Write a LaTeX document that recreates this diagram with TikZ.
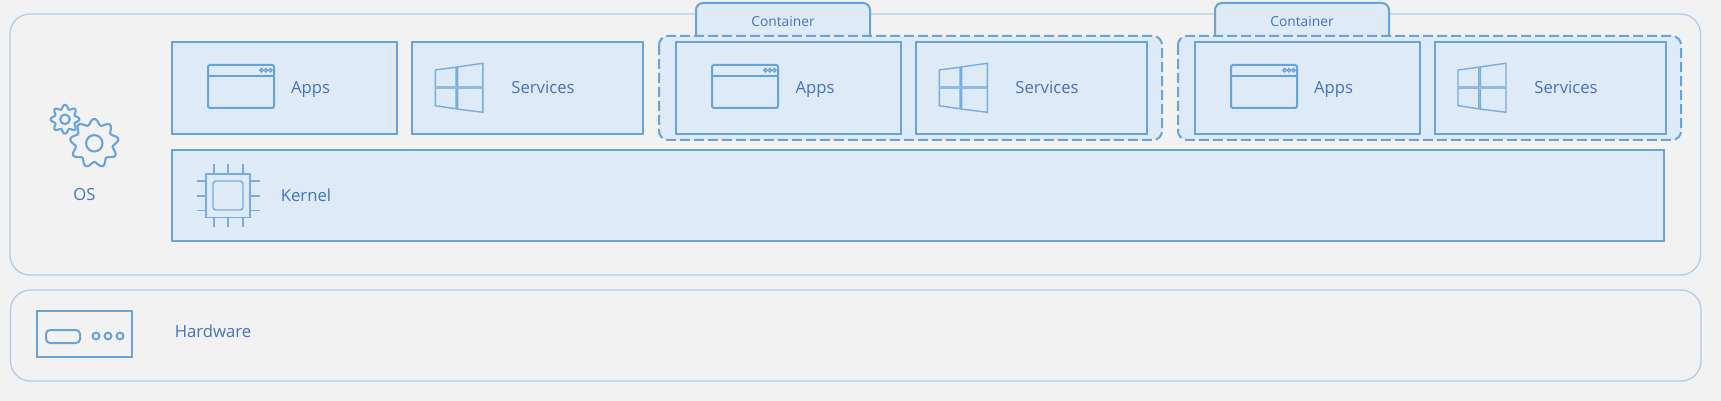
\documentclass[tikz,border=0pt]{standalone}
\usepackage{fontspec}
\setmainfont{Open Sans}
\definecolor{bgc}{HTML}{F2F2F2}
\definecolor{fillc}{HTML}{DEEAF6}
\definecolor{linec}{HTML}{68A3DA}
\definecolor{outerc}{HTML}{B4CDE6}
\definecolor{textc}{HTML}{4472C4}
\tikzset{
  panel/.style={draw=outerc,line width=1.3pt,rounded corners=20pt,fill=bgc},
  bluebox/.style={draw=linec,line width=2pt,fill=fillc,inner sep=0pt,outer sep=0pt},
  dashbox/.style={draw=linec,line width=2pt,fill=fillc,rounded corners=9pt,dash pattern=on 10pt off 4pt},
  tabshape/.style={draw=linec,line width=2pt,fill=fillc,rounded corners=7pt},
  label/.style={text=textc,font=\fontsize{16.7}{19}\selectfont,inner sep=0pt},
  tablabel/.style={text=textc,font=\fontsize{13.8}{16}\selectfont,inner sep=0pt},
  iconline/.style={draw=linec,line width=2pt},
  thinicon/.style={draw=linec!90!white,line width=1.4pt},
  gearline/.style={draw=linec,line width=2.1pt,line join=round}
}
% box from corner to corner: name, x1, y1, x2, y2
\newcommand{\bluerect}[5]{%
  \pgfmathsetmacro{\bw}{#4-#2}\pgfmathsetmacro{\bh}{#5-#3}%
  \pgfmathsetmacro{\bx}{(#2+#4)/2}\pgfmathsetmacro{\by}{(#3+#5)/2}%
  \node[bluebox,minimum width=\bw pt,minimum height=\bh pt] (#1) at (\bx,\by) {};}
% window icon at left x
\newcommand{\windowicon}[1]{%
  \begin{scope}[shift={(#1,0)}]
    \draw[iconline,rounded corners=2pt] (0,65) rectangle (66,108);
    \draw[iconline,line width=1.6pt] (0,76) -- (66,76);
    \foreach \cx in {53.5,58,62.5} \draw[linec,line width=1.3pt] (\cx,70.3) circle (1.7);
  \end{scope}}
% windows-logo icon at left x
\newcommand{\panesicon}[2]{%
  \begin{scope}[shift={(#1,0)}]
    \draw[thinicon,line join=miter] (0,70) -- (20.8,67.2) -- (20.8,108.8) -- (0,105.7) -- cycle;
    \draw[thinicon,line join=miter] (22.4,66.9) -- (#2,63.3) -- (#2,112.3) -- (22.4,109.1) -- cycle;
    \draw[draw=linec!75!white,line width=2.8pt] (0,87.7) -- (#2,87.7);
  \end{scope}}
\newcommand{\gear}[6]{% cx cy R amp teeth phase
  \draw[gearline] plot[domain=0:360,samples=181,smooth cycle]
    ({#1+(#3+#4*cos(#5*\x+#6))*cos(\x)},{#2+(#3+#4*cos(#5*\x+#6))*sin(\x)});}
\begin{document}
\begin{tikzpicture}[x=1pt,y=-1pt]
\useasboundingbox (0,0) rectangle (1721,401);
\fill[bgc] (0,0) rectangle (1721,401);
% outer panels
\draw[panel] (10,14) rectangle (1700.5,275);
\draw[panel] (10.5,290) rectangle (1701,381);
% gears
\gear{94.3}{143.3}{21.5}{2.8}{9}{90}
\draw[gearline] (94.3,143.3) circle (8.2);
\gear{65}{119.3}{12.4}{2}{8}{0}
\draw[gearline] (65,119.3) circle (4.8);
\node[label] (oslabel) at (84.5,195) {OS};
% plain apps / services
\bluerect{apps1}{172}{42}{397}{134}
\bluerect{serv1}{412}{42}{643}{134}
\windowicon{208}
\panesicon{435.3}{47.5}
\node[label,anchor=base] (appst1) at (310.5,93.5) {Apps};
\node[label,anchor=base] (servt1) at (543,93.5) {Services};
% container 1
\draw[tabshape] (696,37) -- (696,3) -- (870,3) -- (870,37);
\node[tablabel] (cont1) at (783,22) {Container};
\draw[dashbox] (659,36) rectangle (1162,140);
\bluerect{apps2}{676}{42}{901}{134}
\bluerect{serv2}{916}{42}{1147}{134}
\windowicon{712}
\panesicon{939.3}{48}
\node[label,anchor=base] (appst2) at (815,93.5) {Apps};
\node[label,anchor=base] (servt2) at (1047,93.5) {Services};
% container 2
\draw[tabshape] (1215,37) -- (1215,3) -- (1389,3) -- (1389,37);
\node[tablabel] (cont2) at (1302,22) {Container};
\draw[dashbox] (1178,36) rectangle (1681,140);
\bluerect{apps3}{1195}{42}{1420}{134}
\bluerect{serv3}{1435}{42}{1666}{134}
\windowicon{1231}
\panesicon{1458}{48}
\node[label,anchor=base] (appst3) at (1333.5,93.5) {Apps};
\node[label,anchor=base] (servt3) at (1566,93.5) {Services};
% kernel
\bluerect{kernel}{172}{150}{1664}{241}
\draw[thinicon] (206,174) rectangle (250,217.5);
\draw[thinicon,rounded corners=3pt] (213,181) rectangle (243,210);
\foreach \p in {214,228,243} {
  \draw[thinicon] (\p,164) -- (\p,174);
  \draw[thinicon] (\p,217.5) -- (\p,227);
}
\foreach \p in {181,196,210.5} {
  \draw[thinicon] (197,\p) -- (206,\p);
  \draw[thinicon] (250,\p) -- (259.5,\p);
}
\node[label,anchor=base] (kernelt) at (306,201.5) {Kernel};
% hardware
\draw[iconline] (37,311) rectangle (132,357);
\draw[iconline,rounded corners=4pt] (46,330) rectangle (80,343);
\foreach \cx in {96,108,120} \draw[iconline] (\cx,336) circle (3.4);
\node[label,anchor=base] (hwt) at (213,337.5) {Hardware};
\end{tikzpicture}
\end{document}
